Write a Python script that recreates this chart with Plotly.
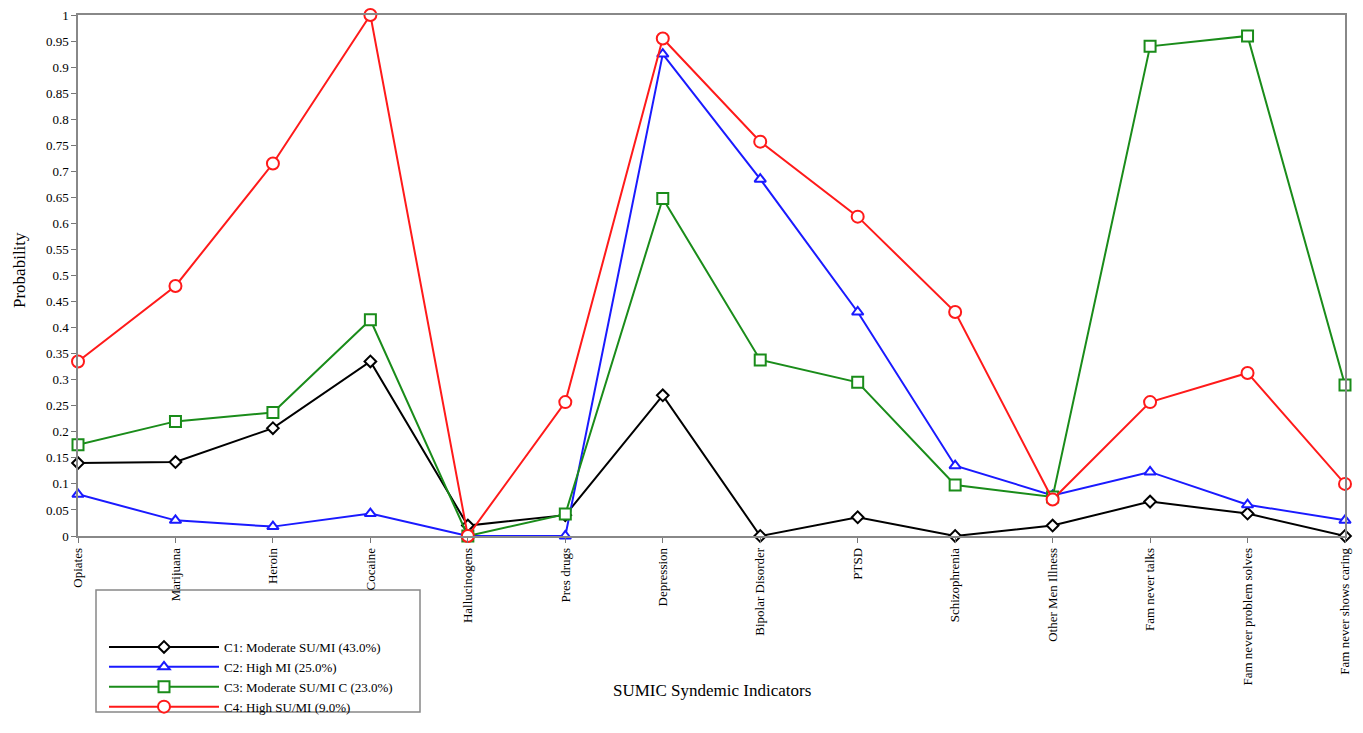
import plotly.graph_objects as go

categories = ["Opiates", "Marijuana", "Heroin", "Cocaine", "Hallucinogens", "Pres drugs",
              "Depression", "Bipolar Disorder", "PTSD", "Schizophrenia", "Other Men Illness",
              "Fam never talks", "Fam never problem solves", "Fam never shows caring"]

c1_values = [0.14, 0.142, 0.207, 0.335, 0.02, 0.04, 0.27, 0.0, 0.036, 0.0, 0.02, 0.066, 0.043, 0.0]
c2_values = [0.08, 0.03, 0.018, 0.043, 0.0, 0.0, 0.925, 0.685, 0.43, 0.135, 0.078, 0.123, 0.06, 0.03]
c3_values = [0.175, 0.22, 0.237, 0.415, 0.0, 0.042, 0.648, 0.338, 0.295, 0.098, 0.075, 0.94, 0.96, 0.29]
c4_values = [0.335, 0.48, 0.715, 1.0, 0.0, 0.257, 0.955, 0.757, 0.613, 0.43, 0.07, 0.257, 0.313, 0.1]

series_names = ["C1: Moderate SU/MI (43.0%)", "C2: High MI (25.0%)",
                "C3: Moderate SU/MI C (23.0%)", "C4: High SU/MI (9.0%)"]
series_values = [c1_values, c2_values, c3_values, c4_values]
series_colors = ["#000000", "#1a1aff", "#1a8c1a", "#ff1a1a"]
series_symbols = ["diamond", "triangle-up", "square", "circle"]
series_sizes = [9, 10, 11, 12]

y_ticks = [round(i * 0.05, 2) for i in range(21)]

FONT = "Liberation Serif, Times New Roman, serif"

fig = go.Figure()
for name, vals, col, sym, sz in zip(series_names, series_values, series_colors, series_symbols, series_sizes):
    fig.add_trace(go.Scatter(
        x=list(range(len(categories))), y=vals, name=name, mode="lines+markers",
        line=dict(color=col, width=2),
        marker=dict(symbol=sym, size=sz, color="white", line=dict(color=col, width=2)),
        cliponaxis=False,
    ))

# page body has an 8px margin; plot area in window pixels: x 78..1345, y 15..536
OFF = 8
WIN_W, WIN_H = 1363, 733
L, R, T, B = 78, 1345, 15, 536
W, H = R - L, B - T

def px_x(p):
    return (p - L) / W

def px_y(p):
    return (B - p) / H

fig.update_layout(
    width=WIN_W - OFF, height=WIN_H - OFF,
    margin=dict(l=L - OFF, r=WIN_W - R, t=T - OFF, b=WIN_H - B, autoexpand=False),
    paper_bgcolor="white", plot_bgcolor="white",
    font=dict(family=FONT, size=13, color="black"),
    showlegend=True,
    legend=dict(
        x=px_x(104), y=px_y(632), xanchor="left", yanchor="top",
        bgcolor="rgba(0,0,0,0)", borderwidth=0,
        font=dict(family=FONT, size=13, color="black"),
        itemwidth=110, tracegroupgap=0,
    ),
    xaxis=dict(
        range=[0, len(categories) - 1],
        tickmode="array", tickvals=list(range(len(categories))), ticktext=categories,
        tickangle=-90, ticks="outside", ticklen=5, tickcolor="#777",
        showline=True, linecolor="#888", linewidth=1.5, mirror=True,
        showgrid=False, zeroline=False, automargin=False,
        tickfont=dict(family=FONT, size=13), ticklabeloverflow="allow",
    ),
    yaxis=dict(
        range=[0, 1.0001], tickmode="array", tickvals=y_ticks,
        ticktext=[("%g" % v) for v in y_ticks],
        ticks="outside", ticklen=5, tickcolor="#777",
        showline=True, linecolor="#888", linewidth=1.5, mirror=True,
        showgrid=False, zeroline=False, automargin=False,
        tickfont=dict(family=FONT, size=13), ticklabeloverflow="allow",
    ),
    shapes=[dict(type="rect", xref="paper", yref="paper",
                 x0=px_x(96), x1=px_x(420), y0=px_y(712), y1=px_y(590),
                 line=dict(color="#888", width=1.5), fillcolor="rgba(0,0,0,0)", layer="below")],
    annotations=[
        dict(text="SUMIC Syndemic Indicators", xref="paper", yref="paper",
             x=0.5, y=px_y(690), xanchor="center", yanchor="middle", showarrow=False,
             font=dict(family=FONT, size=17, color="black")),
        dict(text="Probability", xref="paper", yref="paper",
             x=px_x(19), y=px_y(270), xanchor="center", yanchor="middle", showarrow=False,
             textangle=-90, font=dict(family=FONT, size=17, color="black")),
    ],
)

fig.write_html("out.html")
